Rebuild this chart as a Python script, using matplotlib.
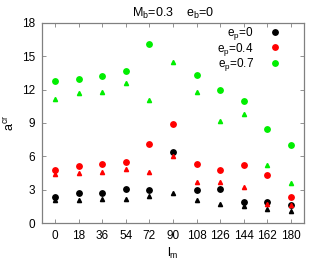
import matplotlib
matplotlib.use("Agg")
import matplotlib.pyplot as plt

lm = [0, 18, 36, 54, 72, 90, 108, 126, 144, 162, 180]

# e_p = 0
black_circ = [2.3, 2.7, 2.7, 3.1, 3.0, 6.4, 3.0, 3.1, 1.9, 1.9, 1.6]
black_tri = [2.1, 2.1, 2.2, 2.2, 2.4, 2.7, 2.1, 1.7, 1.5, 1.3, 1.1]
# e_p = 0.4
red_circ = [4.8, 5.1, 5.3, 5.5, 7.1, 8.9, 5.3, 4.8, 5.2, 4.3, 2.3]
red_tri = [4.4, 4.5, 4.6, 4.9, 4.6, 6.0, 3.7, 3.7, 3.2, 1.7, 1.6]
# e_p = 0.7 (no circle at 90)
green_lm = [0, 18, 36, 54, 72, 108, 126, 144, 162, 180]
green_circ = [12.8, 13.0, 13.2, 13.7, 16.1, 13.3, 12.0, 11.0, 8.5, 7.0]
green_tri = [11.2, 11.7, 11.8, 12.6, 11.1, 14.5, 11.8, 9.2, 9.8, 5.2, 3.6]

plt.rcParams["font.family"] = ["Liberation Sans", "DejaVu Sans"]
fig = plt.figure(figsize=(3.22, 2.73), dpi=100)
ax = fig.add_axes([0.130, 0.183, 0.814, 0.733])

ax.plot(lm, black_circ, "o", color="black", ms=3.9, label=r"e$_\mathregular{p}$=0")
ax.plot(lm, red_circ, "o", color="#ff0000", ms=3.9, label=r"e$_\mathregular{p}$=0.4")
ax.plot(green_lm, green_circ, "o", color="#00ee00", ms=3.9, label=r"e$_\mathregular{p}$=0.7")
ax.plot(lm, black_tri, "^", color="black", ms=3.0)
ax.plot(lm, red_tri, "^", color="#ff0000", ms=3.0)
ax.plot(lm, green_tri, "^", color="#00ee00", ms=3.0)

ax.set_xlim(-10, 190)
ax.set_ylim(0, 18)
ax.set_xticks(lm)
ax.set_yticks([0, 3, 6, 9, 12, 15, 18])
ax.tick_params(direction="in", length=3, width=0.6, color="#808080",
               labelsize=8.5, top=True, right=True, pad=5)
for sp in ax.spines.values():
    sp.set_color("#808080")
    sp.set_linewidth(0.9)

ax.set_xlabel(r"l$_\mathregular{m}$", fontsize=9, labelpad=3)
ax.set_ylabel(r"a$^\mathregular{cr}$", fontsize=9, labelpad=3)
ax.set_title(r"M$_\mathregular{b}$=0.3    e$_\mathregular{b}$=0", fontsize=9, pad=4)

ax.legend(loc="upper right", frameon=False, markerfirst=False, fontsize=8.5,
          handlelength=0.8, handletextpad=1.4, labelspacing=-0.1,
          borderaxespad=0.1, bbox_to_anchor=(0.93, 1.02))

fig.savefig("out.png", dpi=100)
